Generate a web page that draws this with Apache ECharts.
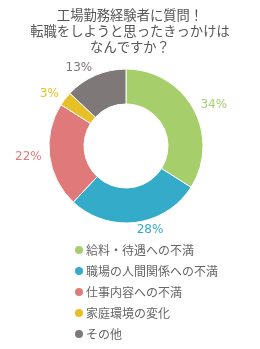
<!DOCTYPE html>
<html style="height: 100%">
<head>
 <meta charset="utf-8">
 <title>転職のきっかけ</title>
 <script src="https://cdn.jsdelivr.net/npm/echarts@6/dist/echarts.min.js"></script>
</head>
<body style="height: 100%; margin: 0; background: #fff">
 <div id="container" style="width: 260px; height: 349px"></div>
 <script type="text/javascript">
    var titleText = '工場勤務経験者に質問！\n転職をしようと思ったきっかけは\nなんですか？';
    var categories = ['給料・待遇への不満', '職場の人間関係への不満', '仕事内容への不満', '家庭環境の変化', 'その他'];
    var values = [34, 28, 22, 3, 13];
    var colors = ['#a6cf6b', '#34abc9', '#e07a7a', '#e6c026', '#7f7878'];

    var jp = '"Noto Sans CJK JP", sans-serif';
    var myChart = echarts.init(document.getElementById('container'));

    var data = [];
    for (var i = 0; i < categories.length; i++) {
        data.push({
            name: categories[i],
            value: values[i],
            itemStyle: { color: colors[i] },
            label: { color: colors[i] }
        });
    }

    myChart.setOption({
        animation: false,
        title: {
            text: titleText,
            left: 'center',
            top: 2,
            textStyle: {
                fontSize: 13.3,
                fontWeight: 'normal',
                color: '#555',
                fontFamily: jp,
                lineHeight: 16
            }
        },
        legend: {
            orient: 'vertical',
            left: 68,
            top: 239,
            itemGap: 9,
            itemWidth: 10,
            itemHeight: 10,
            icon: 'circle',
            textStyle: {
                fontSize: 12,
                color: '#666',
                fontFamily: jp,
                padding: [3, 0, 0, -3]
            },
            data: categories
        },
        series: [{
            type: 'pie',
            center: [126, 146],
            radius: [42, 77],
            startAngle: 90,
            clockwise: true,
            itemStyle: {
                borderColor: '#fff',
                borderWidth: 1
            },
            label: {
                position: 'outside',
                formatter: '{c}%',
                fontSize: 12,
                fontFamily: '"DejaVu Sans", sans-serif',
                distanceToLabelLine: 0
            },
            labelLine: {
                show: false,
                length: 8,
                length2: 0
            },
            data: data
        }]
    });
</script>
</body>
</html>
